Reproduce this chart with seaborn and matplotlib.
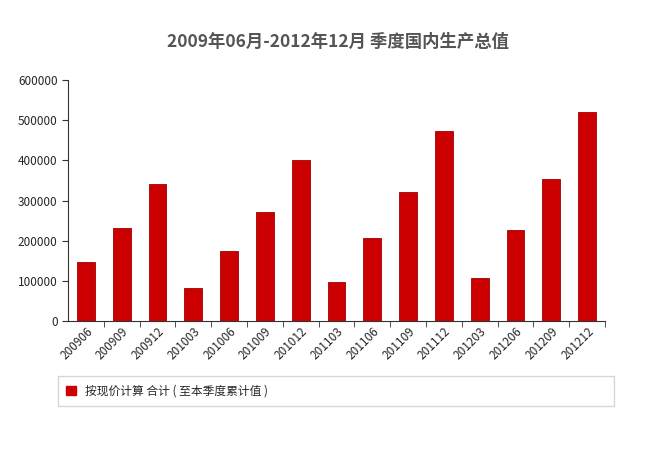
import pandas as pd
import seaborn as sns
import matplotlib.pyplot as plt
from matplotlib.patches import Patch

# === data ===
quarters = ["200906", "200909", "200912", "201003", "201006", "201009", "201012",
            "201103", "201106", "201109", "201112", "201203", "201206", "201209", "201212"]
gdp = [148000, 231000, 340900, 82600, 174000, 271000, 401200,
       97500, 206000, 322000, 472900, 108000, 227100, 353500, 519500]
series_name = "按现价计算 合计 ( 至本季度累计值 )"
title = "2009年06月-2012年12月 季度国内生产总值"

df = pd.DataFrame({"quarter": quarters, "value": gdp})

sns.set_style("white")
plt.rcParams["font.family"] = ["Noto Sans CJK SC", "DejaVu Sans"]

fig = plt.figure(figsize=(6.45, 4.54), dpi=100)
ax = fig.add_axes([68 / 645, 1 - 321 / 454, (605 - 68) / 645, (321 - 80) / 454])

sns.barplot(data=df, x="quarter", y="value", color="#cc0000", saturation=1,
            width=0.5, ax=ax, edgecolor="#a00000", linewidth=0.6)

ax.set_ylim(0, 600000)
ax.set_yticks(range(0, 600001, 100000))
ax.set_xlim(-0.5, len(quarters) - 0.5)
ax.set_xlabel("")
ax.set_ylabel("")
ax.tick_params(axis="y", labelsize=8.5, length=4, direction="out", left=True, color="#333333")
ax.tick_params(axis="x", labelsize=8.5, length=0, pad=3)
plt.setp(ax.get_xticklabels(), rotation=45, ha="right", rotation_mode="anchor")
# tick marks between bars
ax.set_xticks([i + 0.5 for i in range(len(quarters))], minor=True)
ax.tick_params(axis="x", which="minor", length=4, bottom=True, color="#333333")
for s in ["top", "right"]:
    ax.spines[s].set_visible(False)
ax.spines["left"].set_color("#333333")
ax.spines["bottom"].set_color("#333333")

fig.text(338 / 645, 1 - 42 / 454, title, ha="center", va="center",
         fontsize=12.5, fontweight="bold", color="#555555")

leg = fig.legend(handles=[Patch(facecolor="#cc0000", edgecolor="#cc0000")],
                 labels=[series_name], loc="lower left",
                 bbox_to_anchor=(58 / 645, 1 - 406 / 454, (614 - 58) / 645, 28 / 454),
                 mode="expand", fontsize=8.5, frameon=True, fancybox=False,
                 handlelength=0.8, handleheight=0.8, borderaxespad=0, borderpad=0.7)
leg.get_frame().set_edgecolor("#cccccc")

plt.savefig("out.png", dpi=100)
